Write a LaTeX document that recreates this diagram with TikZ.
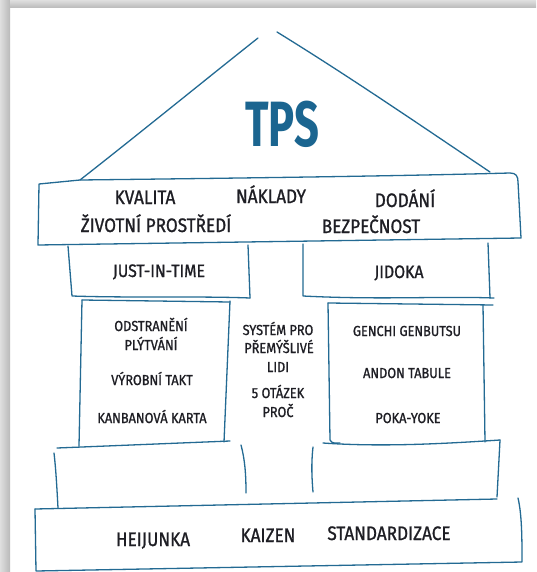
\documentclass[tikz,border=0pt]{standalone}
\usepackage{fontspec}
\newfontfamily\hand{Fira Sans}[FakeStretch=0.88,FakeBold=1]
\newfontfamily\tpsfont{Fira Sans}[FakeStretch=0.68]
\definecolor{ln}{HTML}{236A93}
\definecolor{tpsc}{HTML}{1B6590}
\definecolor{txt}{HTML}{1E1E24}
\begin{document}
\begin{tikzpicture}[x=1pt,y=-1pt,
  sk/.style={draw=ln,line width=1.3pt,line cap=round,line join=round},
  lbl/.style={anchor=base,inner sep=0pt,text=txt,font=\hand\fontsize{19.5}{20}\selectfont},
  mid/.style={lbl,font=\hand\fontsize{18}{18}\selectfont},
  sm/.style={lbl,font=\hand\fontsize{14.5}{15}\selectfont}]
\useasboundingbox (0,0) rectangle (536,572);
\fill[white] (0,0) rectangle (536,572);
\shade[left color=gray!25,right color=gray!55] (0,0) rectangle (10,572);
\shade[top color=gray!25,bottom color=gray!55] (10,0) rectangle (536,8);
% roof
\draw[sk] (80,180) .. controls (140,133) and (200,84) .. (258,38);
\draw[sk] (277,32) .. controls (350,77) and (420,125) .. (490,172);
\node[anchor=base,inner sep=0pt,text=tpsc,font=\tpsfont\bfseries\fontsize{64}{64}\selectfont] (tps) at (282,147) {TPS};
% beam
\draw[sk] (39,184) -- (80,180) .. controls (250,178) and (400,176) .. (510,173)
  .. controls (516,173) and (518,176) .. (518,182) -- (521,238) -- (38,245) -- cycle;
\node[lbl] (kval) at (145,204) {KVALITA};
\node[lbl] (nakl) at (271,203) {NÁKLADY};
\node[lbl] (doda) at (405,207) {DODÁNÍ};
\node[lbl] (ziv) at (156,232) {ŽIVOTNÍ PROSTŘEDÍ};
\node[lbl] (bezp) at (371,233) {BEZPEČNOST};
% JIT and Jidoka
\draw[sk] (68,246) -- (72,296) .. controls (130,298) and (200,296) .. (250,298);
\draw[sk] (248,245) -- (250,298);
\draw[sk] (303,244) -- (303,296) .. controls (380,300) and (440,296) .. (494,298);
\draw[sk] (488,243) -- (490,298);
\node[mid] (jit) at (159,277) {JUST-IN-TIME};
\node[mid] (jid) at (399,278) {JIDOKA};
% middle boxes
\draw[sk] (82,300) -- (230,302);
\draw[sk] (82,300) -- (79,446);
\draw[sk] (230,301) -- (224,442);
\draw[sk] (328,303) -- (493,305);
\draw[sk] (328,303) -- (330,440) .. controls (332,444) and (336,443) .. (340,443);
\draw[sk] (483,305) -- (485,442);
\node[sm] (ods) at (151,331) {ODSTRANĚNÍ};
\node[sm] (ply) at (151,350) {PLÝTVÁNÍ};
\node[sm] (vyr) at (152,385) {VÝROBNÍ TAKT};
\node[sm] (kan) at (152,423) {KANBANOVÁ KARTA};
\node[sm] (sys) at (278,335) {SYSTÉM PRO};
\node[sm] (pre) at (279,353) {PŘEMÝŠLIVÉ};
\node[sm] (lid) at (278,372) {LIDI};
\node[sm] (ota) at (278,398) {5 OTÁZEK};
\node[sm] (pro) at (278,417) {PROČ};
\node[sm] (gen) at (407,336) {GENCHI GENBUTSU};
\node[sm] (and) at (407,378) {ANDON TABULE};
\node[sm] (pok) at (408,423) {POKA-YOKE};
% lower boxes
\draw[sk] (57,448) -- (230,441);
\draw[sk] (54,453) .. controls (56,470) and (57,490) .. (58,508);
\draw[sk] (241,445) .. controls (245,460) and (246,475) .. (246,493);
\draw[sk] (323,443) .. controls (380,447) and (440,444) .. (500,440);
\draw[sk] (313,447) .. controls (311,465) and (312,480) .. (313,492);
\draw[sk] (500,440) -- (497,497);
% foundation
\draw[sk] (35,509) -- (497,499);
\draw[sk] (518,498) .. controls (522,515) and (522,540) .. (522,562) -- (36,571) -- (35,509);
\node[lbl] (hei) at (153,546) {HEIJUNKA};
\node[lbl] (kai) at (268,542) {KAIZEN};
\node[lbl] (sta) at (389,540) {STANDARDIZACE};
\end{tikzpicture}
\end{document}
